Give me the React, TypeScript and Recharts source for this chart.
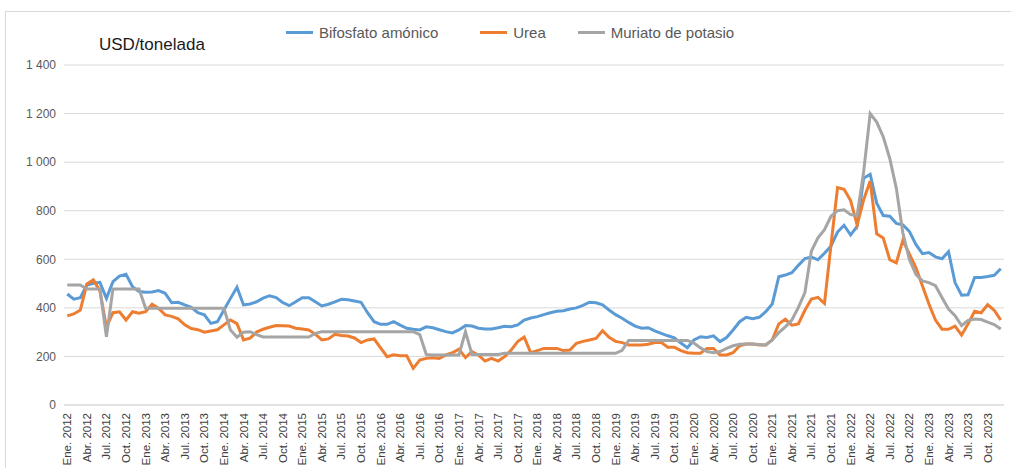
import React from 'react';
import {
  LineChart,
  Line,
  XAxis,
  YAxis,
  CartesianGrid
} from 'recharts';

const monthNames = ['Ene.', 'Feb.', 'Mar.', 'Abr.', 'May.', 'Jun.', 'Jul.', 'Ago.', 'Sep.', 'Oct.', 'Nov.', 'Dic.'];
const years = [2012, 2013, 2014, 2015, 2016, 2017, 2018, 2019, 2020, 2021, 2022, 2023];

// USD por tonelada, mensual (Ene. 2012 - Dic. 2023)
const bifosfato = [
  457, 436, 442, 494, 501, 505, 439, 508, 531, 538, 487, 467,
  464, 465, 471, 460, 421, 423, 412, 402, 380, 371, 336, 343,
  391, 439, 485, 412, 416, 425, 440, 450, 442, 422, 409, 425,
  442, 442, 425, 408, 415, 425, 435, 433, 428, 423, 380, 343,
  332, 332, 343, 329, 316, 312, 309, 322, 318, 310, 302, 297,
  309, 327, 325, 316, 313, 313, 318, 324, 322, 330, 350, 358,
  364, 372, 380, 386, 388, 395, 400, 410, 423, 421, 412, 391,
  372, 357, 340, 325, 316, 318, 305, 295, 285, 277, 255, 236,
  268, 281, 278, 285, 261, 278, 309, 343, 361, 355, 361, 384,
  416, 528, 535, 545, 575, 603, 609, 598, 625, 655, 712, 740,
  700, 735, 934, 950, 831, 780, 777, 748, 742, 715, 661, 623,
  628, 610, 602, 631, 504, 452, 454, 525, 525, 529, 534, 561
];

const urea = [
  367, 375, 391, 498, 515, 470, 320, 380, 384, 350, 384, 378,
  384, 415, 398, 371, 365, 355, 330, 315, 310, 300, 305, 310,
  330, 350, 335, 268, 275, 300, 312, 320, 327, 326, 325, 316,
  313, 309, 292, 268, 272, 291, 286, 284, 276, 257, 268, 272,
  235, 199, 207, 203, 203, 151, 185, 192, 195, 192, 206, 215,
  230, 195, 220, 205, 181, 192, 181, 199, 226, 261, 280, 215,
  224, 233, 233, 233, 224, 226, 254, 262, 268, 274, 306, 279,
  262, 257, 247, 247, 247, 250, 257, 257, 238, 238, 224, 215,
  213, 213, 233, 233, 206, 206, 215, 244, 251, 251, 247, 247,
  268, 334, 353, 329, 334, 390, 436, 443, 418, 660, 895, 888,
  842, 742, 845, 922, 705, 688, 598, 585, 678, 622, 566, 491,
  416, 350, 312, 312, 325, 288, 334, 386, 380, 413, 390, 350
];

const muriato = [
  494, 494, 494, 478, 478, 478, 281, 478, 478, 478, 478, 478,
  398, 398, 398, 398, 398, 398, 398, 398, 398, 398, 398, 398,
  398, 309, 279, 300, 302, 290, 280, 280, 280, 280, 280, 280,
  280, 280, 295, 302, 302, 302, 302, 302, 302, 302, 302, 302,
  302, 302, 302, 302, 302, 302, 290, 208, 206, 206, 206, 206,
  206, 302, 208, 208, 208, 208, 208, 213, 213, 213, 213, 213,
  213, 213, 213, 213, 213, 213, 213, 213, 213, 213, 213, 213,
  213, 225, 266, 266, 266, 266, 266, 266, 266, 266, 266, 266,
  255, 235, 220, 215, 220, 233, 244, 250, 251, 251, 249, 247,
  268, 298, 322, 350, 402, 463, 634, 688, 722, 777, 800, 804,
  784, 780, 960, 1200, 1165, 1104, 1015, 893, 709, 600, 538, 511,
  504, 491, 443, 395, 368, 327, 348, 354, 352, 341, 331, 313
];

const yTicks = [0, 200, 400, 600, 800, 1000, 1200, 1400];

const series = [
  { key: 'Bifosfato amónico', values: bifosfato, color: '#5B9BD5' },
  { key: 'Urea', values: urea, color: '#ED7D31' },
  { key: 'Muriato de potasio', values: muriato, color: '#A5A5A5' }
];

const labels = years.flatMap(y => monthNames.map(m => `${m} ${y}`));

const data = labels.map((label, i) => {
  const row: any = { label };
  series.forEach(s => {
    row[s.key] = s.values[i];
  });
  return row;
});

const FONT = '"Liberation Sans", Arial, sans-serif';

const formatThousands = (n: number) =>
  n >= 1000 ? `${Math.floor(n / 1000)} ${String(n % 1000).padStart(3, '0')}` : String(n);

const XTick = ({ x, y, payload }: any) => (
  <text
    x={x}
    y={y}
    transform={`rotate(-90, ${x}, ${y})`}
    textAnchor="end"
    dominantBaseline="central"
    fontSize={11.5}
    fontFamily={FONT}
    fill="#404040"
  >
    {payload.value}
  </text>
);

export default function App() {
  return (
    <div style={{ position: 'absolute', left: 0, top: 0, width: 1011, height: 468, background: '#fff', overflow: 'hidden' }}>
      <div
        style={{
          position: 'absolute',
          left: 5,
          top: 11,
          width: 1010,
          height: 470,
          borderLeft: '1px solid #d9d9d9',
          borderTop: '1px solid #d9d9d9'
        }}
      />
      <div
        style={{
          position: 'absolute',
          left: 99,
          top: 35,
          fontFamily: FONT,
          fontSize: 17,
          color: '#1a1a1a'
        }}
      >
        USD/tonelada
      </div>
      {/* leyenda */}
      <div
        style={{
          position: 'absolute',
          left: 286,
          top: 24,
          display: 'flex',
          fontFamily: FONT,
          fontSize: 15,
          color: '#595959'
        }}
      >
        {series.map((s, i) => (
          <div
            key={s.key}
            style={{ display: 'flex', alignItems: 'center', marginRight: i === 0 ? 42 : 32 }}
          >
            <div style={{ width: 27, height: 3, background: s.color, marginRight: 6 }} />
            <span>{s.key}</span>
          </div>
        ))}
      </div>
      <div style={{ position: 'absolute', left: 0, top: 0 }}>
        <LineChart
          width={1011}
          height={468}
          data={data}
          margin={{ top: 65, right: 7, bottom: 0, left: 0 }}
        >
          <CartesianGrid vertical={false} stroke="#d9d9d9" strokeWidth={1} />
          <XAxis
            dataKey="label"
            scale="band"
            interval={2}
            tickLine={false}
            axisLine={{ stroke: '#d9d9d9' }}
            height={63}
            tick={<XTick />}
            tickMargin={2}
          />
          <YAxis
            domain={[0, 1400]}
            ticks={yTicks}
            width={64}
            axisLine={false}
            tickLine={false}
            tickFormatter={formatThousands}
            tick={{ fontSize: 12, fill: '#595959', fontFamily: FONT }}
          />
          {series.map(s => (
            <Line
              key={s.key}
              type="linear"
              dataKey={s.key}
              stroke={s.color}
              strokeWidth={3}
              dot={false}
              activeDot={false}
              isAnimationActive={false}
            />
          ))}
        </LineChart>
      </div>
    </div>
  );
}
